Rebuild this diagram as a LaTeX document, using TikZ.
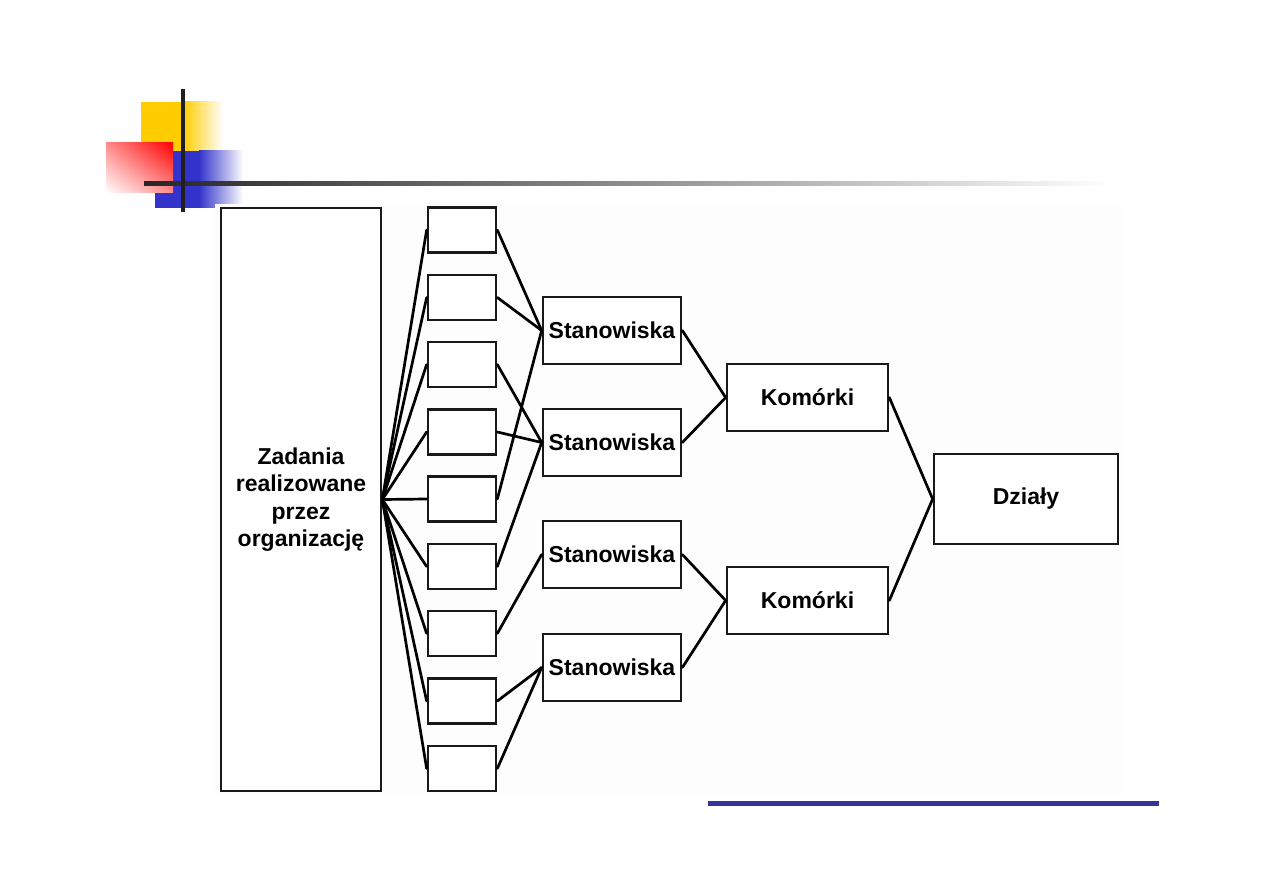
\documentclass[tikz,border=0pt]{standalone}
\usepackage{fontspec}
\setmainfont{Liberation Sans}
\usetikzlibrary{shadings}
\definecolor{decoyellow}{RGB}{255,204,0}
\definecolor{decoblue}{RGB}{51,51,204}
\definecolor{decored}{RGB}{255,0,0}
\definecolor{footblue}{RGB}{51,51,153}
\definecolor{faint}{RGB}{253,253,253}
\begin{document}
\begin{tikzpicture}[x=1pt,y=-1pt,
  box/.style={draw=black!90, fill=white, line width=2.7pt, inner sep=0pt,
    font=\bfseries\fontsize{23}{27.5}\selectfont, align=center},
  task/.style={box, minimum width=68pt, minimum height=45pt},
  stan/.style={box, minimum width=138pt, minimum height=67pt},
  kom/.style={box, minimum width=161pt, minimum height=67pt},
  link/.style={draw=black, line width=2.7pt, line cap=round}]
\useasboundingbox (0,0) rectangle (1263,893);
\fill[white] (0,0) rectangle (1263,893);
% decoration
\fill[decoyellow] (141,102) rectangle (183,152);
\shade[left color=decoyellow, right color=white] (183,102) rectangle (223,152);
\fill[decoblue] (155,151) rectangle (199,208);
\shade[left color=decoblue, right color=white] (199,151) rectangle (243,208);
\shade[upper right=decored, lower left=white, upper left=decored!45!white, lower right=decored!45!white] (106,143) rectangle (173,193);
\shade[left color=black!85, right color=white, middle color=black!45] (144,182) rectangle (1110,186);
\fill[black!88] (181,89) rectangle (185,212);
% faint diagram background
\fill[faint] (215,204) rectangle (1122,795);
% footer line
\fill[footblue] (708,801) rectangle (1159,806);
% nodes
\node[box, minimum width=160pt, minimum height=583pt] (Z) at (301,499.5) {Zadania\\realizowane\\przez\\organizację};
\node[task] (t1) at (462,230) {};
\node[task] (t2) at (462,297.5) {};
\node[task] (t3) at (462,364.5) {};
\node[task] (t4) at (462,432) {};
\node[task] (t5) at (462,499) {};
\node[task] (t6) at (462,566.5) {};
\node[task] (t7) at (462,633.5) {};
\node[task] (t8) at (462,701) {};
\node[task] (t9) at (462,768.5) {};
\node[stan] (s1) at (612,330.5) {Stanowiska};
\node[stan] (s2) at (612,442.5) {Stanowiska};
\node[stan] (s3) at (612,554.5) {Stanowiska};
\node[stan] (s4) at (612,667.5) {Stanowiska};
\node[kom] (k1) at (807.5,397.5) {Komórki};
\node[kom] (k2) at (807.5,600.5) {Komórki};
\node[box, minimum width=184pt, minimum height=90pt] (d) at (1026,499) {Działy};
% connectors
\foreach \t in {t1,t2,t3,t4,t5,t6,t7,t8,t9}
  \draw[link] (Z.east) -- (\t.west);
\draw[link] (t1.east) -- (s1.west);
\draw[link] (t2.east) -- (s1.west);
\draw[link] (t5.east) -- (s1.west);
\draw[link] (t3.east) -- (s2.west);
\draw[link] (t4.east) -- (s2.west);
\draw[link] (t6.east) -- (s2.west);
\draw[link] (t7.east) -- (s3.west);
\draw[link] (t8.east) -- (s4.west);
\draw[link] (t9.east) -- (s4.west);
\draw[link] (s1.east) -- (k1.west);
\draw[link] (s2.east) -- (k1.west);
\draw[link] (s3.east) -- (k2.west);
\draw[link] (s4.east) -- (k2.west);
\draw[link] (k1.east) -- (d.west);
\draw[link] (k2.east) -- (d.west);
\end{tikzpicture}
\end{document}
